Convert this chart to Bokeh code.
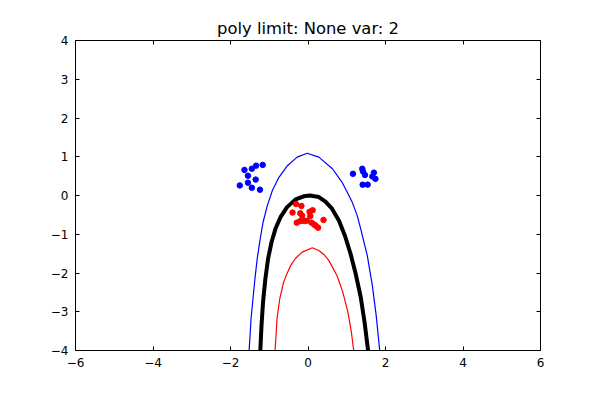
from bokeh.plotting import figure
from bokeh.models import LinearAxis, FixedTicker, Range1d
from bokeh.embed import file_html
from bokeh.resources import INLINE

TITLE = "poly limit: None var: 2"

x_ticks = [-6, -4, -2, 0, 2, 4, 6]
y_ticks = [-4, -3, -2, -1, 0, 1, 2, 3, 4]

# class 1 (blue) samples, two clusters
blue_x = [-1.64, -1.45, -1.34, -1.17, -1.55, -1.35, -1.55, -1.76, -1.45, -1.24,
          1.16, 1.40, 1.42, 1.47, 1.70, 1.66, 1.74, 1.41, 1.54]
blue_y = [0.66, 0.69, 0.77, 0.79, 0.51, 0.41, 0.33, 0.26, 0.20, 0.15,
          0.56, 0.69, 0.62, 0.53, 0.59, 0.49, 0.43, 0.28, 0.28]

# class 2 (red) samples
red_x = [-0.31, -0.17, -0.40, -0.20, -0.15, 0.04, 0.12, 0.06, -0.29, -0.20,
         -0.10, -0.03, 0.09, 0.16, 0.26, 0.40, 0.20]
red_y = [-0.22, -0.27, -0.44, -0.46, -0.52, -0.42, -0.38, -0.53, -0.70, -0.66,
         -0.66, -0.65, -0.70, -0.75, -0.83, -0.63, -0.78]

# decision boundary (black) and the two margins (blue / red)
bound_x = [-1.23, -1.20, -1.16, -1.10, -1.03, -0.94, -0.84, -0.71, -0.54, -0.32,
           -0.11, 0.05, 0.28, 0.45, 0.62, 0.80, 0.95, 1.10, 1.23, 1.36, 1.46, 1.55]
bound_y = [-4.0, -3.36, -2.75, -2.15, -1.63, -1.20, -0.86, -0.56, -0.30, -0.10,
           -0.02, 0.0, -0.04, -0.16, -0.34, -0.65, -1.03, -1.51, -2.02, -2.62,
           -3.27, -4.0]

upper_x = [-1.52, -1.50, -1.47, -1.42, -1.37, -1.31, -1.24, -1.16, -1.05, -0.92,
           -0.75, -0.54, -0.28, -0.02, 0.28, 0.63, 0.88, 1.01, 1.14, 1.27, 1.36,
           1.53, 1.66, 1.76, 1.85]
upper_y = [-4.0, -3.70, -3.18, -2.67, -2.15, -1.63, -1.16, -0.69, -0.26, 0.13,
           0.47, 0.76, 0.99, 1.09, 0.99, 0.69, 0.34, 0.09, -0.17, -0.52, -0.86,
           -1.55, -2.32, -3.10, -4.0]

lower_x = [-0.85, -0.82, -0.80, -0.73, -0.63, -0.54, -0.45, -0.32, -0.15, 0.11,
           0.28, 0.41, 0.54, 0.75, 0.90, 1.03, 1.12, 1.18]
lower_y = [-4.0, -3.53, -3.18, -2.67, -2.24, -2.01, -1.81, -1.62, -1.46, -1.35,
           -1.42, -1.52, -1.68, -2.07, -2.50, -3.01, -3.53, -4.0]


def minus(v):
    return str(v).replace("-", "\u2212")


def style_axis(ax, ticks, labels=True):
    ax.ticker = FixedTicker(ticks=ticks)
    ax.major_tick_in = 4
    ax.major_tick_out = 0
    ax.minor_tick_in = 0
    ax.minor_tick_out = 0
    ax.axis_line_color = "black"
    ax.major_tick_line_color = "black"
    ax.major_label_text_font = "DejaVu Sans"
    if labels:
        ax.major_label_text_color = "black"
        ax.major_label_text_font_size = "12px"
        ax.major_label_standoff = 7
        ax.major_label_overrides = {t: minus(t) for t in ticks}
    else:
        # ticks only, like the mirrored ticks of the original
        ax.major_label_text_color = None
        ax.major_label_text_font_size = "1px"
        ax.major_label_standoff = 0


p = figure(width=592, height=392, x_range=Range1d(-6, 6), y_range=Range1d(-4, 4),
           title=TITLE, output_backend="svg", toolbar_location=None,
           min_border_left=75, min_border_right=52,
           min_border_top=40, min_border_bottom=42)

p.grid.visible = False
p.outline_line_color = None
p.background_fill_color = "white"
p.border_fill_color = "white"

p.title.text_font = "DejaVu Sans"
p.title.text_font_size = "16.4px"
p.title.text_font_style = "normal"
p.title.text_color = "black"
p.title.align = "center"
p.title.standoff = 6

style_axis(p.xaxis[0], x_ticks)
style_axis(p.yaxis[0], y_ticks)
top = LinearAxis()
right = LinearAxis()
style_axis(top, x_ticks, labels=False)
style_axis(right, y_ticks, labels=False)
p.add_layout(top, "above")
p.add_layout(right, "right")

p.line(upper_x, upper_y, line_color="blue", line_width=1.2)
p.line(bound_x, bound_y, line_color="black", line_width=4)
p.line(lower_x, lower_y, line_color="red", line_width=1.2)

p.scatter(blue_x, blue_y, size=5.5, color="blue")
p.scatter(red_x, red_y, size=5.5, color="red")

open("out.html", "w").write(file_html(p, INLINE))
